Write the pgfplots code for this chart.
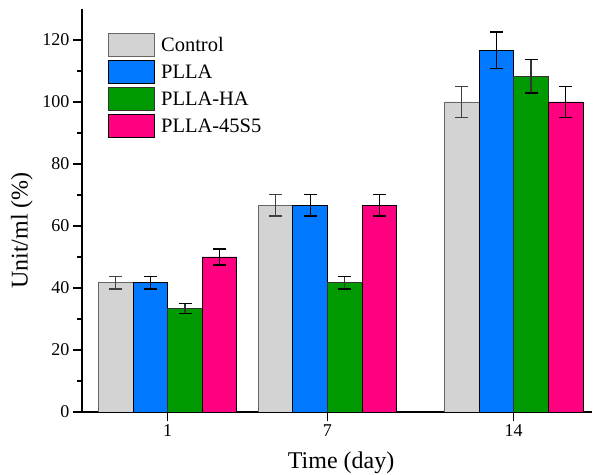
\documentclass[border=0pt]{standalone}
\usepackage{pgfplots}
\pgfplotsset{compat=1.18}
\usepackage{fontspec}
\setmainfont{Liberation Serif}
\newfontfamily\tnr{Liberation Serif}
\definecolor{cctrl}{RGB}{211,211,211}
\definecolor{cplla}{RGB}{0,120,255}
\definecolor{cha}{RGB}{0,153,0}
\definecolor{c45}{RGB}{255,0,128}
\begin{document}
\begin{tikzpicture}
\begin{axis}[
  scale only axis,
  width=510pt, height=403pt,
  xmin=-2.22, xmax=16.94, ymin=0, ymax=130,
  axis lines*=left,
  axis line style={line width=1.4pt,-},
  ybar=0pt, bar width=1.3,
  xtick={1,7,14},
  ytick={0,20,...,120},
  minor y tick num=1,
  tick align=outside,
  major tick length=9pt, minor tick length=5pt,
  tick style={line width=1.2pt,black},
  /pgf/number format/assume math mode=true,
  tick label style={font=\tnr\fontsize{18}{20}\selectfont},
  xlabel={Time (day)}, ylabel={Unit/ml (\%)},
  label style={font=\tnr\fontsize{24}{28}\selectfont},
  xlabel style={at={(axis description cs:0.508,-0.127)}, anchor=center},
  ylabel style={at={(axis description cs:-0.118,0.45)}, anchor=center},
  legend style={at={(axis description cs:0.051,0.94)}, anchor=north west, draw=none, fill=none,
    inner sep=0pt, row sep=3pt, column sep=6pt, font=\tnr\fontsize{20.5}{22}\selectfont,
    nodes={inner sep=0pt}},
  legend cell align=left,
  legend image code/.code={\draw[#1] (0pt,-11.5pt) rectangle (46pt,11.5pt);},
  error bars/y dir=both, error bars/y explicit,
  error bars/error mark options={line width=1.2pt, mark size=6.5pt, rotate=90},
  error bars/error bar style={line width=1.2pt},
]
\addplot[fill=cctrl, draw=black!60, line width=0.9pt, bar shift=-1.95,
  error bars/error bar style={line width=1.2pt, black!75},
  error bars/error mark options={line width=1.2pt, mark size=6.5pt, rotate=90, black!75}]
  coordinates {(1,41.7) +- (0,2) (7,66.7) +- (0,3.5) (14,100) +- (0,5)};
\addplot[fill=cplla, draw=black, line width=0.9pt, bar shift=-0.65]
  coordinates {(1,41.7) +- (0,2) (7,66.7) +- (0,3.5) (14,116.7) +- (0,5.9)};
\addplot[fill=cha, draw=black!80, line width=0.9pt, bar shift=0.65]
  coordinates {(1,33.3) +- (0,1.6) (7,41.7) +- (0,2) (14,108.3) +- (0,5.4)};
\addplot[fill=c45, draw=black, line width=0.9pt, bar shift=1.95]
  coordinates {(1,50) +- (0,2.6) (7,66.7) +- (0,3.5) (14,100) +- (0,5)};
\legend{Control,PLLA,PLLA-HA,PLLA-45S5}
\coordinate (sw) at (rel axis cs:0,0);
\coordinate (ne) at (rel axis cs:1,1);
\end{axis}
\pgfresetboundingbox
\path ([shift={(-82pt,-63pt)}]sw) rectangle ([shift={(1pt,9pt)}]ne);
\end{tikzpicture}
\end{document}
